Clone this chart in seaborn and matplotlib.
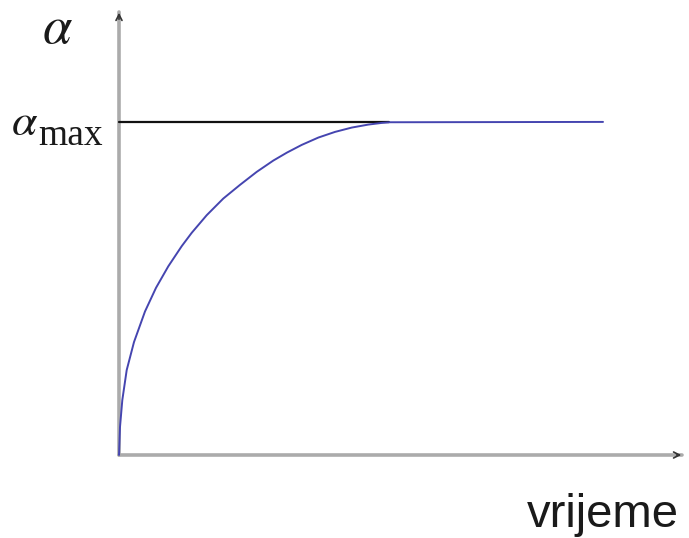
import numpy as np
import pandas as pd
import matplotlib
matplotlib.use('Agg')
import matplotlib.pyplot as plt
import seaborn as sns

# --- data (time in arbitrary units, alpha as fraction of alpha_max) ---
t_curve = [0.0, 0.0036, 0.012, 0.0279, 0.0543, 0.0942, 0.1341, 0.1786, 0.2272,
           0.2634, 0.3178, 0.3779, 0.4384, 0.4989, 0.5591, 0.6087, 0.662, 0.7221,
           0.7826, 0.8431, 0.9033, 0.9518, 0.9819, 1.7536]
alpha_curve = [0.0, 0.084, 0.165, 0.255, 0.339, 0.431, 0.502, 0.5665, 0.627,
               0.667, 0.720, 0.770, 0.811, 0.850, 0.884, 0.908, 0.931, 0.953,
               0.970, 0.983, 0.992, 0.997, 0.999, 1.0]
t_max_line = [0.0, 0.98]
alpha_max_line = [1.0, 1.0]

x_label = 'vrijeme'

df_curve = pd.DataFrame({'t': t_curve, 'alpha': alpha_curve})
df_max = pd.DataFrame({'t': t_max_line, 'alpha': alpha_max_line})

# --- plot ---
sns.set_theme(style="white")
plt.rcParams['mathtext.fontset'] = 'stix'
fig = plt.figure(figsize=(6.89, 5.38), dpi=100)
ax = fig.add_axes([119 / 689, 83 / 538, 565 / 689, 445 / 538])

sns.lineplot(data=df_max, x='t', y='alpha', ax=ax, color='#111111', lw=1.6)
sns.lineplot(data=df_curve, x='t', y='alpha', ax=ax, color='#4545b0', lw=1.4)
for ln in ax.lines:
    ln.set_clip_on(False)

ax.set_xlim(0, 2.047)
ax.set_ylim(0, 1.336)
ax.set_xticks([])
ax.set_yticks([])
ax.set_xlabel('')
ax.set_ylabel('')
for s in ax.spines.values():
    s.set_visible(False)

# axes drawn as grey lines with small arrow heads
ax.plot([0, 0], [0, 1.33], color='#ababab', lw=2.6, clip_on=False, zorder=1)
ax.plot([0, 2.04], [0, 0], color='#ababab', lw=2.6, clip_on=False, zorder=1)
ax.annotate('', xy=(0, 1.336), xytext=(0, 1.30),
            arrowprops=dict(arrowstyle='->,head_length=0.35,head_width=0.18',
                            color='#333333', lw=1.2), annotation_clip=False)
ax.annotate('', xy=(2.047, 0), xytext=(2.01, 0),
            arrowprops=dict(arrowstyle='->,head_length=0.35,head_width=0.18',
                            color='#333333', lw=1.2), annotation_clip=False)

# labels
W, H = 689, 538
fig.text(42 / W, 1 - 43 / H, r'$\alpha$', fontsize=38, color='#1a1a1a', va='baseline', ha='left')
fig.text(11 / W, 1 - 135 / H, r'$\alpha$', fontsize=33, color='#1a1a1a', va='baseline', ha='left')
fig.text(38 / W, 1 - 145 / H, 'max', fontsize=27, family=['Liberation Serif', 'DejaVu Serif'],
         color='#1a1a1a', va='baseline', ha='left')
fig.text(527 / W, 1 - 527 / H, x_label, fontsize=34, family=['Liberation Sans', 'DejaVu Sans'],
         color='#1a1a1a', va='baseline', ha='left')

plt.savefig('out.png', dpi=100)
